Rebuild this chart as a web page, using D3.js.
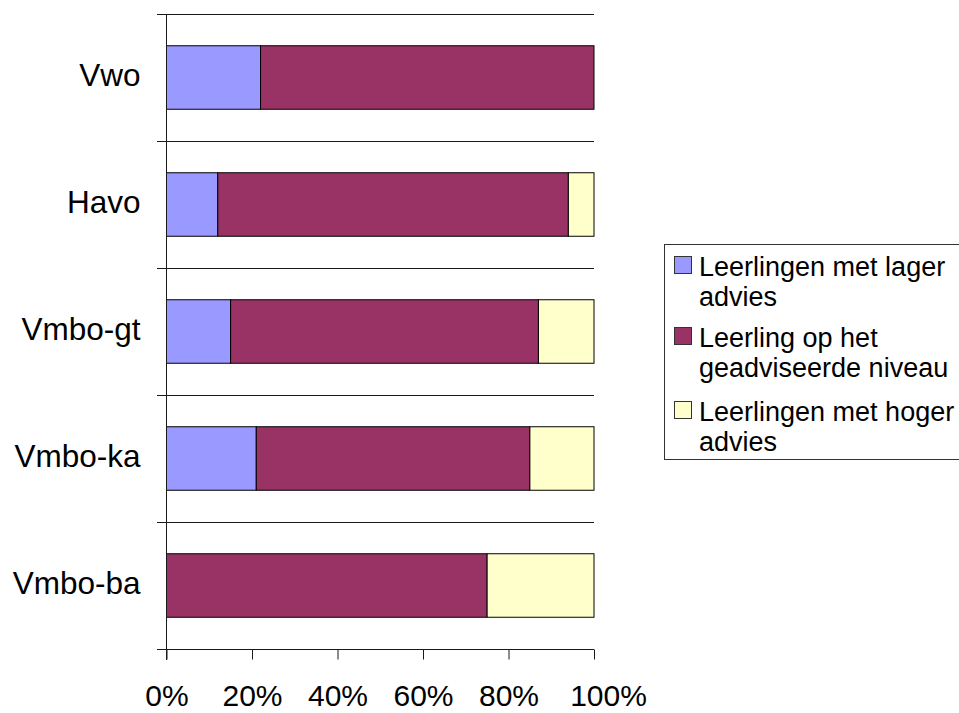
<!DOCTYPE html>
<html>
<head>
<meta charset="utf-8">
<script src="https://cdn.jsdelivr.net/npm/d3@7"></script>
<style>
  html, body { margin: 0; padding: 0; background: #fff; }
  svg { display: block; font-family: Arial, "Liberation Sans", sans-serif; }
</style>
</head>
<body>
<svg id="chart" width="959" height="713"></svg>
<script>
// Schooltypes (top to bottom)
const categories = ["Vwo", "Havo", "Vmbo-gt", "Vmbo-ka", "Vmbo-ba"];

// Share of pupils per schooltype (percent)
const lagerAdvies   = [22, 12, 15, 21, 0];
const opNiveau      = [78, 82, 72, 64, 75];
const hogerAdvies   = [0, 6, 13, 15, 25];

const seriesNames = [
  ["Leerlingen met lager", "advies"],
  ["Leerling op het", "geadviseerde niveau"],
  ["Leerlingen met hoger", "advies"]
];
const seriesColors = ["#9999FF", "#993366", "#FFFFCC"];

const xTicks = [0, 0.2, 0.4, 0.6, 0.8, 1];

const svg = d3.select("#chart");

const plotLeft = 166.5, plotRight = 594, plotTop = 14, plotBottom = 649;

const x = d3.scaleLinear().domain([0, 1]).range([plotLeft, plotRight]);
const y = d3.scaleBand()
  .domain(categories)
  .range([plotTop, plotBottom])
  .paddingInner(0.5)
  .paddingOuter(0.25);

// stack the three series as fractions of the total
const rows = categories.map((c, i) => {
  const vals = [lagerAdvies[i], opNiveau[i], hogerAdvies[i]];
  const total = d3.sum(vals);
  return { cat: c, s0: vals[0] / total, s1: vals[1] / total, s2: vals[2] / total };
});
const stacked = d3.stack().keys(["s0", "s1", "s2"])(rows);

// horizontal lines at category boundaries (including the bottom axis line)
const boundaries = d3.range(categories.length + 1).map(i => plotTop + i * y.step());
svg.append("g")
  .selectAll("line")
  .data(boundaries)
  .join("line")
  .attr("x1", plotLeft - 9.5)
  .attr("x2", plotRight)
  .attr("y1", d => Math.round(d) + 0.5)
  .attr("y2", d => Math.round(d) + 0.5)
  .attr("stroke", "#1a1a1a")
  .attr("stroke-width", 1);

// bars
svg.append("g")
  .selectAll("g")
  .data(stacked)
  .join("g")
  .attr("fill", (d, i) => seriesColors[i])
  .selectAll("rect")
  .data(d => d.filter(p => p[1] - p[0] > 0))
  .join("rect")
  .attr("x", d => x(d[0]))
  .attr("width", d => x(d[1]) - x(d[0]))
  .attr("y", d => y(d.data.cat))
  .attr("height", y.bandwidth())
  .attr("stroke", "#000")
  .attr("stroke-width", 1);

// vertical axis line
svg.append("line")
  .attr("x1", plotLeft).attr("x2", plotLeft)
  .attr("y1", plotTop).attr("y2", Math.round(plotBottom) + 11)
  .attr("stroke", "#1a1a1a")
  .attr("stroke-width", 1);

// category labels
const yAxis = svg.append("g")
  .attr("transform", `translate(${plotLeft},0)`)
  .call(d3.axisLeft(y).tickSize(0).tickPadding(26));
yAxis.select(".domain").remove();
yAxis.selectAll("text")
  .attr("font-size", 31.5)
  .attr("font-family", "Arial, 'Liberation Sans', sans-serif")
  .attr("fill", "#000")
  .attr("dy", "0.28em");

// percentage axis
const xAxis = svg.append("g")
  .attr("transform", `translate(0,${Math.round(plotBottom) + 0.5})`)
  .call(d3.axisBottom(x).tickValues(xTicks).tickFormat(d3.format(".0%")).tickSize(10).tickPadding(25));
xAxis.select(".domain").remove();
xAxis.selectAll("line").attr("stroke", "#1a1a1a");
xAxis.selectAll("text")
  .attr("font-size", 30)
  .attr("font-family", "Arial, 'Liberation Sans', sans-serif")
  .attr("fill", "#000");
xAxis.selectAll(".tick").filter(d => d === 1).select("text").attr("dx", 14);

// legend
const legend = svg.append("g");
legend.append("rect")
  .attr("x", 664.5).attr("y", 244.5)
  .attr("width", 320).attr("height", 215)
  .attr("fill", "#fff")
  .attr("stroke", "#333")
  .attr("stroke-width", 1);

const itemBaselines = [276, 347, 421];
const item = legend.selectAll("g.item")
  .data(seriesNames)
  .join("g")
  .attr("class", "item")
  .attr("transform", (d, i) => `translate(0,${itemBaselines[i]})`);

item.append("rect")
  .attr("x", 674.5).attr("y", -19.5)
  .attr("width", 17).attr("height", 17)
  .attr("fill", (d, i) => seriesColors[i])
  .attr("stroke", "#333")
  .attr("stroke-width", 1);

item.append("text")
  .attr("x", 699)
  .attr("font-size", 27)
  .attr("fill", "#000")
  .selectAll("tspan")
  .data(d => d)
  .join("tspan")
  .attr("x", 699)
  .attr("y", (d, j) => j * 30)
  .text(d => d);
</script>
</body>
</html>
